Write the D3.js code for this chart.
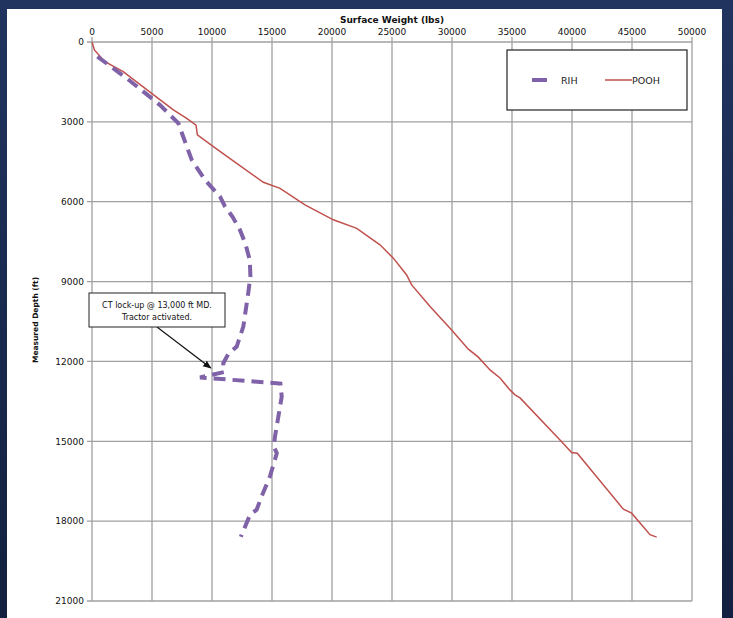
<!DOCTYPE html>
<html>
<head>
<meta charset="utf-8">
<script src="https://cdn.jsdelivr.net/npm/d3@7"></script>
<style>
  body { margin: 0; background: #1a2a4e; }
  svg { display: block; }
</style>
</head>
<body>
<script>
// surface weight axis (lbs) and depth axis (ft)
const xTicks = [0, 5000, 10000, 15000, 20000, 25000, 30000, 35000, 40000, 45000, 50000];
const yTicks = [0, 3000, 6000, 9000, 12000, 15000, 18000, 21000];

// POOH - pulling out of hole
const poohWeight = [0, 200, 1080, 2600, 4970, 6780, 7890, 8670, 8780, 10110, 12060, 14280, 15670, 17750, 20110, 22060, 24000, 25110, 26220, 26640, 28170, 29970, 31360, 32170, 33170, 34000, 34830, 35250, 35670, 39000, 39970, 40440, 44280, 44970, 46500, 47060];
const poohDepth  = [0, 300, 740, 1115, 1930, 2550, 2870, 3120, 3490, 3930, 4560, 5270, 5500, 6120, 6680, 7000, 7620, 8120, 8750, 9125, 9940, 10815, 11540, 11830, 12320, 12620, 13070, 13255, 13370, 14950, 15420, 15450, 17550, 17700, 18510, 18600];

// RIH - running in hole
const rihWeight = [450, 2890, 5670, 7190, 8310, 9420, 10670, 11080, 11700, 12330, 12800, 13150, 13200, 13030, 12610, 12060, 11360, 10940, 11000, 9000, 15700, 15810, 15250, 15150, 15400, 14830, 14140, 13720, 13170, 12400];
const rihDepth  = [550, 1360, 2370, 3050, 4430, 5180, 5810, 6180, 6560, 7060, 7600, 8200, 8800, 9400, 10690, 11440, 11720, 12070, 12400, 12600, 12830, 13320, 14820, 15200, 15450, 16320, 17070, 17570, 17760, 18590];

const W = 733, H = 618;
const font = "DejaVu Sans, sans-serif";

const svg = d3.select("body").append("svg").attr("width", W).attr("height", H);

// dark blue slide background
const defs = svg.append("defs");
const grad = defs.append("linearGradient").attr("id", "bg").attr("x1", 0).attr("y1", 0).attr("x2", 0).attr("y2", 1);
grad.append("stop").attr("offset", "0%").attr("stop-color", "#20345f");
grad.append("stop").attr("offset", "100%").attr("stop-color", "#13203f");
svg.append("rect").attr("width", W).attr("height", H).attr("fill", "url(#bg)");
svg.append("rect").attr("x", 7).attr("y", 9).attr("width", 715).attr("height", H - 9).attr("fill", "#fff");

const x = d3.scaleLinear().domain([0, 50000]).range([92, 692]);
const y = d3.scaleLinear().domain([0, 21000]).range([42, 601]);

// grid
const grid = svg.append("g").attr("stroke", "#a0a0a0").attr("stroke-width", 1.3);
grid.selectAll("line.v").data(xTicks).join("line")
  .attr("x1", d => x(d)).attr("x2", d => x(d))
  .attr("y1", y(0) - 5).attr("y2", y(21000));
grid.selectAll("line.h").data(yTicks).join("line")
  .attr("y1", d => y(d)).attr("y2", d => y(d))
  .attr("x1", x(0) - 5).attr("x2", x(50000));

// tick labels
svg.append("g").selectAll("text").data(xTicks).join("text")
  .attr("x", d => x(d)).attr("y", 35)
  .attr("text-anchor", "middle")
  .style("font", "9px " + font).attr("fill", "#111")
  .text(d => d);
svg.append("g").selectAll("text").data(yTicks).join("text")
  .attr("x", 84).attr("y", d => y(d) + 3.3)
  .attr("text-anchor", "end")
  .style("font", "9px " + font).attr("fill", "#111")
  .text(d => d);

// axis titles
svg.append("text").attr("x", 392).attr("y", 23).attr("text-anchor", "middle")
  .style("font", "bold 9px " + font).attr("fill", "#111")
  .text("Surface Weight (lbs)");
svg.append("text").attr("transform", "translate(38,320) rotate(-90)").attr("text-anchor", "middle")
  .style("font", "bold 7.5px " + font).attr("fill", "#111")
  .text("Measured Depth (ft)");

// series
const line = d3.line().x(d => x(d[0])).y(d => y(d[1]));
svg.append("path")
  .datum(poohWeight.map((w, i) => [w, poohDepth[i]]))
  .attr("d", line).attr("fill", "none")
  .attr("stroke", "#c0504d").attr("stroke-width", 1.5);
svg.append("path")
  .datum(rihWeight.map((w, i) => [w, rihDepth[i]]))
  .attr("d", line).attr("fill", "none")
  .attr("stroke", "#7f62a8").attr("stroke-width", 4)
  .attr("stroke-dasharray", "12,7");

// legend
const lg = svg.append("g");
lg.append("rect").attr("x", 507).attr("y", 50).attr("width", 180).attr("height", 60)
  .attr("fill", "#fff").attr("stroke", "#222").attr("stroke-width", 1.2);
lg.append("line").attr("x1", 532).attr("x2", 547).attr("y1", 80).attr("y2", 80)
  .attr("stroke", "#7f62a8").attr("stroke-width", 4);
lg.append("text").attr("x", 561).attr("y", 83.5).style("font", "9.5px " + font).attr("fill", "#222").text("RIH");
lg.append("line").attr("x1", 605).attr("x2", 632).attr("y1", 80).attr("y2", 80)
  .attr("stroke", "#c0504d").attr("stroke-width", 1.5);
lg.append("text").attr("x", 632).attr("y", 83.5).style("font", "9.5px " + font).attr("fill", "#222").text("POOH");

// annotation
defs.append("marker").attr("id", "arr").attr("viewBox", "0 0 10 10")
  .attr("refX", 9).attr("refY", 5).attr("markerWidth", 7).attr("markerHeight", 7)
  .attr("orient", "auto")
  .append("path").attr("d", "M0,1 L10,5 L0,9 Z").attr("fill", "#111");
const tipW = 9900, tipD = 12250;
svg.append("line")
  .attr("x1", 157).attr("y1", 327)
  .attr("x2", x(tipW)).attr("y2", y(tipD))
  .attr("stroke", "#111").attr("stroke-width", 1.2)
  .attr("marker-end", "url(#arr)");
svg.append("rect").attr("x", 89).attr("y", 293).attr("width", 136).attr("height", 34)
  .attr("fill", "#fff").attr("stroke", "#222").attr("stroke-width", 1);
svg.append("text").attr("x", 157).attr("y", 308).attr("text-anchor", "middle")
  .style("font", "8px " + font).attr("fill", "#111").text("CT lock-up @ 13,000 ft MD.");
svg.append("text").attr("x", 157).attr("y", 320).attr("text-anchor", "middle")
  .style("font", "8px " + font).attr("fill", "#111").text("Tractor activated.");
</script>
</body>
</html>
